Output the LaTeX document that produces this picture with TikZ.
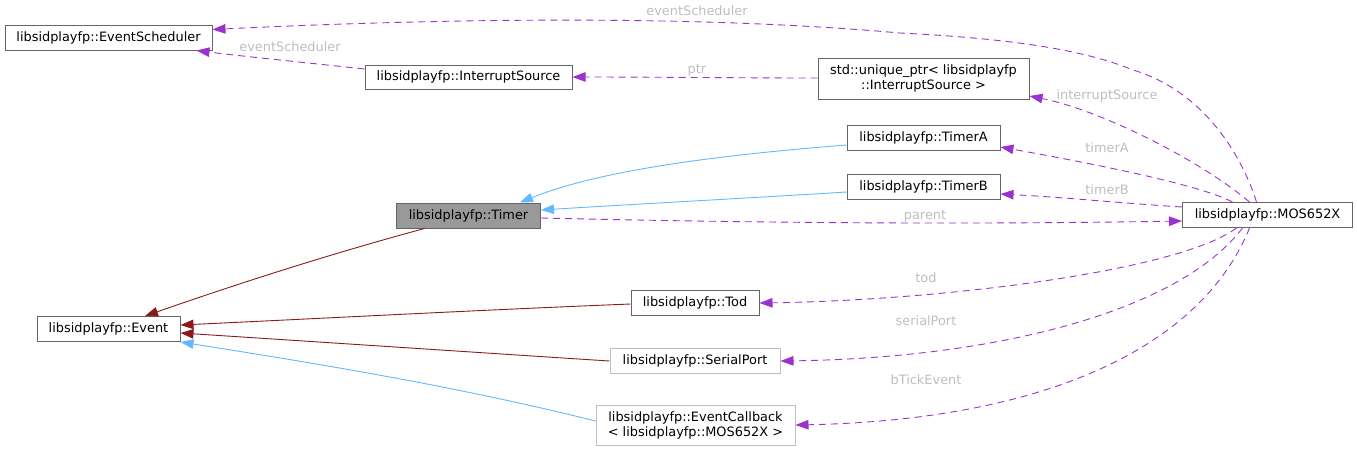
\documentclass[tikz,border=0pt]{standalone}
\usepackage{fontspec}
\setmainfont{DejaVu Sans}
\usetikzlibrary{arrows.meta}
\definecolor{dep}{HTML}{9A32CD}
\definecolor{pub}{HTML}{63B8FF}
\definecolor{inh}{HTML}{8B1A1A}
\definecolor{lbl}{HTML}{BEBEBE}
\definecolor{bord}{HTML}{666666}
\definecolor{lbord}{HTML}{BFBFBF}
\definecolor{cur}{HTML}{999999}
\begin{document}
\begin{tikzpicture}[x=1pt,y=-1pt,
  font=\fontsize{12.9}{15}\selectfont,
  box/.style={draw=bord,line width=1pt,fill=white,inner sep=0pt,align=center,text=black},
  gbox/.style={box,draw=lbord},
  tip/.style={-{Triangle[length=13pt,width=9.5pt]}},
  depedge/.style={tip,draw=dep,line width=0.9pt,dash pattern=on 7pt off 5pt},
  pubedge/.style={tip,draw=pub,line width=0.9pt},
  inhedge/.style={tip,draw=inh,line width=0.9pt},
  elabel/.style={text=lbl,inner sep=0pt}]
\path[use as bounding box] (0,0) rectangle (1357,451);
% nodes
\node[box,minimum width=207pt,minimum height=25pt] (es) at (108.5,37.5) {libsidplayfp::EventScheduler};
\node[box,minimum width=207pt,minimum height=24pt] (is) at (468.5,77) {libsidplayfp::InterruptSource};
\node[box,minimum width=211pt,minimum height=41pt] (up) at (923.5,78.5) {std::unique\_ptr< libsidplayfp\\::InterruptSource >};
\node[box,minimum width=153pt,minimum height=25pt] (ta) at (923.5,137.5) {libsidplayfp::TimerA};
\node[box,minimum width=153pt,minimum height=25pt] (tb) at (923.5,186.5) {libsidplayfp::TimerB};
\node[box,fill=cur,minimum width=144pt,minimum height=25pt] (timer) at (468.5,215.5) {libsidplayfp::Timer};
\node[box,minimum width=170pt,minimum height=25pt] (mos) at (1267.5,215) {libsidplayfp::MOS652X};
\node[box,minimum width=143pt,minimum height=25pt] (ev) at (108.5,329) {libsidplayfp::Event};
\node[box,minimum width=128pt,minimum height=25pt] (tod) at (695,303) {libsidplayfp::Tod};
\node[gbox,minimum width=170pt,minimum height=25pt] (sp) at (695,361) {libsidplayfp::SerialPort};
\node[gbox,minimum width=199pt,minimum height=40pt] (ec) at (695.5,425) {libsidplayfp::EventCallback\\< libsidplayfp::MOS652X >};
% dependency edges
\draw[depedge] ([xshift=-11pt]mos.north) .. controls (1240,150) and (1200,90) .. (1133,70)
   .. controls (1080,48) and (1000,38) .. (900,33)
   .. controls (700,15) and (450,18) .. ([yshift=8pt]es.east);
\draw[depedge] ([yshift=8pt]is.west) .. controls (300,62) and (240,56) .. ([xshift=88pt]es.south);
\draw[depedge] ([yshift=0.5pt]up.west) .. controls (750,78) and (650,77) .. (is.east);
\draw[depedge] ([xshift=-18pt]mos.north) .. controls (1200,160) and (1100,110) .. ([yshift=-17.5pt]up.east);
\draw[depedge] ([xshift=-35pt]mos.north) .. controls (1200,185) and (1100,165) .. ([yshift=-9.5pt]ta.east);
\draw[depedge] ([yshift=8pt]mos.west) .. controls (1120,203) and (1060,197) .. ([yshift=-7.5pt]tb.east);
\draw[depedge] ([yshift=-2.5pt]timer.east) .. controls (800,224) and (1000,224) .. ([yshift=-6pt]mos.west);
\draw[depedge] ([xshift=-31pt]mos.south) .. controls (1180,270) and (950,300) .. (tod.east);
\draw[depedge] ([xshift=-25pt]mos.south) .. controls (1180,310) and (1000,358) .. (sp.east);
\draw[depedge] ([xshift=-18pt]mos.south) .. controls (1200,350) and (1040,420) .. (ec.east);
% inheritance edges
\draw[pubedge] ([yshift=-7.5pt]ta.west) .. controls (720,155) and (600,170) .. ([xshift=51.5pt]timer.north);
\draw[pubedge] ([yshift=-5.5pt]tb.west) .. controls (750,198) and (620,205) .. ([yshift=5.5pt]timer.east);
\draw[inhedge] ([xshift=-44pt]timer.south) .. controls (330,254) and (240,283) .. ([xshift=36.5pt]ev.north);
\draw[inhedge] ([yshift=-1pt]tod.west) .. controls (480,310) and (330,318) .. ([yshift=4pt]ev.east);
\draw[inhedge] (sp.west) .. controls (470,352) and (320,342) .. ([yshift=-4pt]ev.east);
\draw[pubedge] ([yshift=4pt]ec.west) .. controls (460,387) and (320,364) .. (ev.south east);
% labels
\node[elabel] (l1) at (697,11) {eventScheduler};
\node[elabel] (l2) at (290,47) {eventScheduler};
\node[elabel] (l3) at (697,70) {ptr};
\node[elabel] (l4) at (1107,96) {interruptSource};
\node[elabel] (l5) at (1107,148) {timerA};
\node[elabel] (l6) at (1107,190) {timerB};
\node[elabel] (l7) at (925,216) {parent};
\node[elabel] (l8) at (926,278) {tod};
\node[elabel] (l9) at (926,321) {serialPort};
\node[elabel] (l10) at (926,380) {bTickEvent};
\end{tikzpicture}
\end{document}
